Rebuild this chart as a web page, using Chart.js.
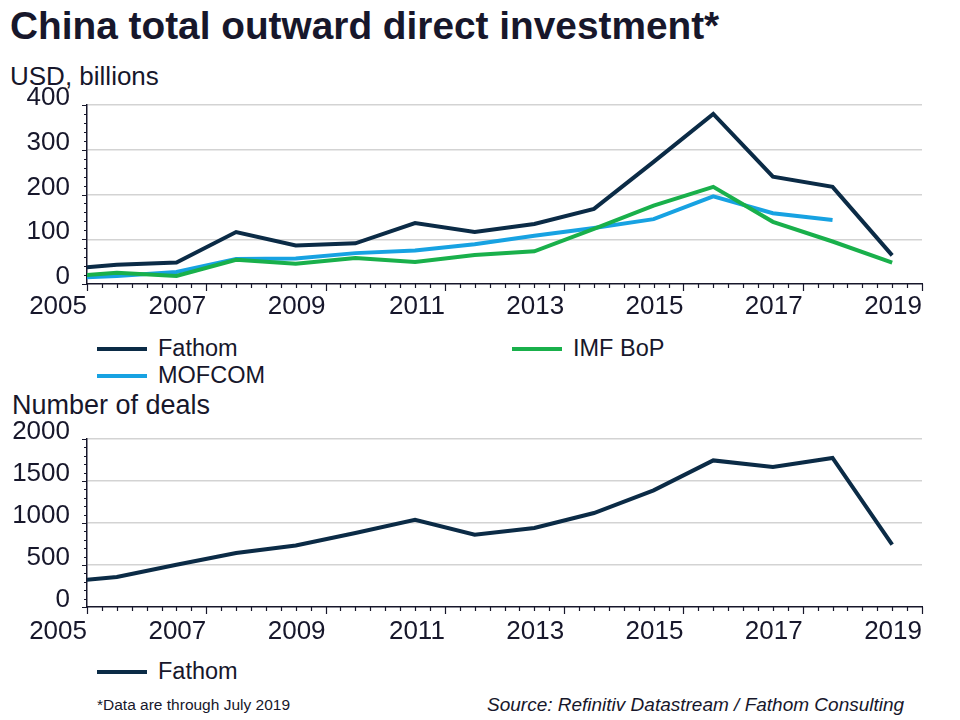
<!DOCTYPE html>
<html>
<head>
<meta charset="utf-8">
<script src="https://cdn.jsdelivr.net/npm/chart.js@4.4.1/dist/chart.umd.min.js"></script>
<style>
  body { margin: 0; background: #fff; width: 960px; height: 720px; position: relative; overflow: hidden;
         font-family: "Liberation Sans", Arial, sans-serif; color: #17172b; }
  canvas { position: absolute; left: 0; }
  .t { position: absolute; white-space: nowrap; line-height: 1; }
  .leg { position: absolute; display: flex; align-items: center; font-size: 23.5px; line-height: 1; white-space: nowrap; }
  .leg i { display: inline-block; width: 50px; height: 4px; margin-right: 11px; }
</style>
</head>
<body>
<div class="t" style="left:10px;top:7px;font-size:38.8px;font-weight:bold;">China total outward direct investment*</div>
<div class="t" style="left:10px;top:63px;font-size:26px;">USD, billions</div>
<canvas id="odi" width="960" height="330" style="top:0"></canvas>
<div id="legOdi"></div>
<div class="t" style="left:12px;top:392px;font-size:27px;">Number of deals</div>
<canvas id="deals" width="960" height="250" style="top:400px"></canvas>
<div id="legDeals"></div>
<div class="t" style="left:97px;top:697px;font-size:15.5px;">*Data are through July 2019</div>
<div class="t" style="left:487px;top:695px;font-size:19px;font-style:italic;">Source: Refinitiv Datastream / Fathom Consulting</div>

<script>
// annual data, 2019 = through July
const years = [2005, 2006, 2007, 2008, 2009, 2010, 2011, 2012, 2013, 2014, 2015, 2016, 2017, 2018, 2019];
const fathomOdi = [32, 43, 48, 116, 86, 91, 136, 116, 134, 168, 273, 380, 240, 217, 64];
const imfBop    = [15, 25, 18, 54, 45, 58, 49, 65, 73, 123, 175, 217, 139, 95, 48];
const mofcom    = [12, 18, 27, 56, 57, 69, 75, 89, 108, 125, 145, 196, 158, 143, null];
const fathomDeals = [292, 358, 503, 643, 733, 881, 1039, 861, 940, 1119, 1388, 1745, 1667, 1774, 742];
const yearLabels = [2005, 2007, 2009, 2011, 2013, 2015, 2017, 2019];

const NAVY = '#0b2b46', GREEN = '#19b04b', BLUE = '#17a2e2';
const TEXT = '#17172b', GRID = '#d3d3d3';
const FONT = { family: '"Liberation Sans", Arial, sans-serif', size: 26 };

// each year is plotted half way into the interval ending at its labelled tick
const pts = vals => vals.map((v, i) => ({ x: years[i] - 0.5, y: v }));

const line = (label, vals, color) => ({
  label, data: pts(vals), borderColor: color, backgroundColor: color,
  borderWidth: 4, pointRadius: 0, tension: 0, clip: 0, spanGaps: false
});

// minor / major tick marks, Excel style
const tickMarks = {
  id: 'tickMarks',
  afterDraw(chart, args, opts) {
    const { ctx, scales: { x, y } } = chart;
    ctx.save();
    ctx.strokeStyle = TEXT;
    ctx.lineWidth = 1.2;
    ctx.beginPath();
    for (let v = x.min; v <= x.max + 1e-6; v += opts.xMinor) {
      const px = Math.round(x.getPixelForValue(v)) + 0.5;
      const major = Math.abs(((v - x.min) / opts.xMajor) % 1) < 1e-6;
      ctx.moveTo(px, x.top);
      ctx.lineTo(px, x.top + (major ? 7 : 4));
    }
    for (let v = y.min; v <= y.max + 1e-6; v += opts.yMinor) {
      const py = Math.round(y.getPixelForValue(v)) + 0.5;
      const major = Math.abs((v / opts.yMajor) % 1) < 1e-6;
      ctx.moveTo(y.right, py);
      ctx.lineTo(y.right - (major ? 5 : 3), py);
    }
    ctx.stroke();
    ctx.restore();
  }
};

function makeChart(id, datasets, yMax, yStep, yMinor, padTop, xHeight, xPad) {
  return new Chart(document.getElementById(id), {
    type: 'line',
    data: { datasets },
    plugins: [tickMarks],
    options: {
      responsive: false,
      animation: false,
      layout: { padding: { top: padTop, right: 38, left: 0, bottom: 0 } },
      plugins: {
        legend: { display: false },
        tooltip: { enabled: false },
        tickMarks: { xMinor: 0.25, xMajor: 2, yMinor, yMajor: yStep }
      },
      scales: {
        x: {
          type: 'linear', min: 2005, max: 2019,
          afterBuildTicks: s => { s.ticks = yearLabels.map(v => ({ value: v })); },
          afterFit: s => { s.height = xHeight; },
          ticks: { font: FONT, color: TEXT, align: 'end', maxRotation: 0, autoSkip: false,
                   padding: xPad, callback: v => String(v) },
          grid: { drawOnChartArea: false, drawTicks: false },
          border: { display: true, color: TEXT, width: 1.5 }
        },
        y: {
          min: 0, max: yMax,
          afterFit: s => { s.width = 87; },
          ticks: { stepSize: yStep, font: FONT, color: TEXT, padding: 17, labelOffset: -7,
                   callback: v => String(v) },
          grid: { color: c => c.tick && c.tick.value === 0 ? 'rgba(0,0,0,0)' : GRID,
                  lineWidth: 1.5, drawTicks: false },
          border: { display: true, color: TEXT, width: 1.5 }
        }
      }
    }
  });
}

const odiChart = makeChart('odi', [
  line('Fathom', fathomOdi, NAVY),
  line('IMF BoP', imfBop, GREEN),
  line('MOFCOM', mofcom, BLUE)
], 400, 100, 20, 105, 46, 7);

const dealsChart = makeChart('deals', [
  line('Fathom', fathomDeals, NAVY)
], 2000, 500, 100, 39, 43, 9);

// html legends built from the chart datasets
function legend(chart, holder, spots) {
  const el = document.getElementById(holder);
  chart.data.datasets.forEach((ds, i) => {
    const d = document.createElement('div');
    d.className = 'leg';
    d.style.left = spots[i][0] + 'px';
    d.style.top = spots[i][1] + 'px';
    d.innerHTML = '<i style="background:' + ds.borderColor + '"></i>' + ds.label;
    el.appendChild(d);
  });
}
legend(odiChart, 'legOdi', [[97, 337], [512, 337], [97, 364]]);
legend(dealsChart, 'legDeals', [[97, 660]]);
</script>
</body>
</html>
